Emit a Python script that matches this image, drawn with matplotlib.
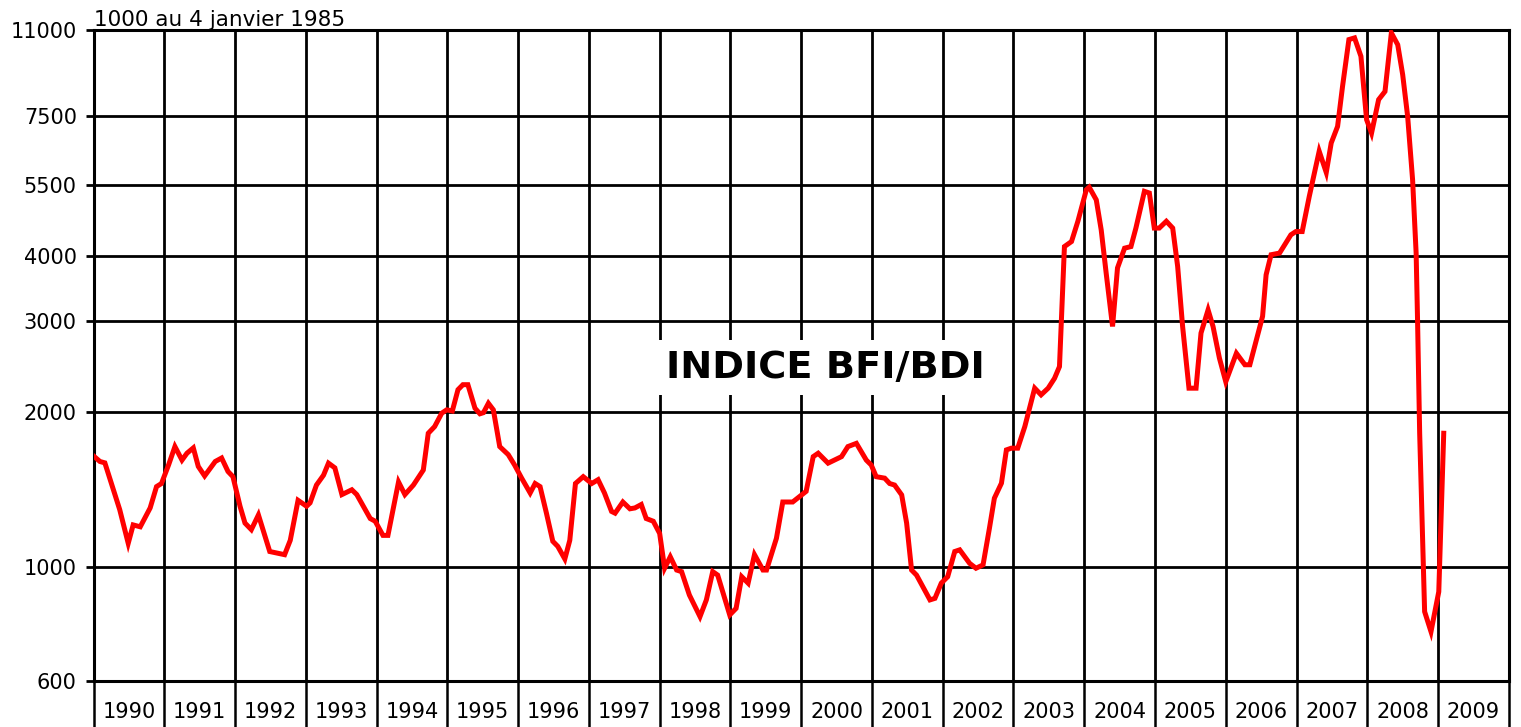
import matplotlib.pyplot as plt
import numpy as np

# Baltic Dry Index (fractional years, index values)
years = [1990.00, 1990.09, 1990.16, 1990.28, 1990.37, 1990.49, 1990.56, 1990.66, 1990.80, 1990.89,
         1990.96, 1991.06, 1991.15, 1991.25, 1991.32, 1991.41, 1991.48, 1991.57, 1991.72, 1991.81,
         1991.90, 1991.97, 1992.07, 1992.14, 1992.23, 1992.33, 1992.49, 1992.63, 1992.70, 1992.78,
         1992.89, 1993.01, 1993.06, 1993.15, 1993.25, 1993.32, 1993.41, 1993.51, 1993.65, 1993.72,
         1993.91, 1993.98, 1994.09, 1994.16, 1994.31, 1994.40, 1994.52, 1994.66, 1994.73, 1994.82,
         1994.92, 1994.99, 1995.07, 1995.15, 1995.22, 1995.29, 1995.39, 1995.46, 1995.51, 1995.58,
         1995.65, 1995.74, 1995.86, 1995.95, 1996.05, 1996.17, 1996.24, 1996.31, 1996.40, 1996.49,
         1996.56, 1996.66, 1996.73, 1996.81, 1996.92, 1997.04, 1997.13, 1997.22, 1997.32, 1997.37,
         1997.48, 1997.58, 1997.65, 1997.74, 1997.81, 1997.91, 1998.00, 1998.07, 1998.15, 1998.24,
         1998.31, 1998.42, 1998.57, 1998.66, 1998.75, 1998.82, 1998.92, 1998.99, 1999.08, 1999.16,
         1999.25, 1999.34, 1999.46, 1999.51, 1999.65, 1999.74, 1999.88, 2000.07, 2000.17, 2000.24,
         2000.38, 2000.57, 2000.66, 2000.78, 2000.92, 2000.99, 2001.06, 2001.18, 2001.25, 2001.32,
         2001.42, 2001.49, 2001.56, 2001.63, 2001.82, 2001.89, 2001.98, 2002.07, 2002.17, 2002.24,
         2002.38, 2002.47, 2002.57, 2002.66, 2002.73, 2002.83, 2002.90, 2002.97, 2003.06, 2003.16,
         2003.30, 2003.39, 2003.49, 2003.58, 2003.65, 2003.72, 2003.82, 2003.91, 2004.03, 2004.07,
         2004.17, 2004.24, 2004.31, 2004.40, 2004.47, 2004.57, 2004.66, 2004.73, 2004.85, 2004.92,
         2004.99, 2005.06, 2005.16, 2005.25, 2005.32, 2005.39, 2005.48, 2005.58, 2005.65, 2005.75,
         2005.82, 2005.91, 2006.00, 2006.08, 2006.15, 2006.27, 2006.34, 2006.45, 2006.52, 2006.57,
         2006.64, 2006.76, 2006.92, 2006.99, 2007.08, 2007.18, 2007.32, 2007.42, 2007.49, 2007.58,
         2007.65, 2007.74, 2007.82, 2007.91, 2007.99, 2008.06, 2008.16, 2008.25, 2008.34, 2008.43,
         2008.50, 2008.57, 2008.64, 2008.69, 2008.71, 2008.74, 2008.81, 2008.90, 2009.01, 2009.08]
bdi = [1640, 1600, 1590, 1410, 1290, 1110, 1205, 1195, 1300, 1430,
       1450, 1575, 1710, 1610, 1660, 1700, 1565, 1500, 1600, 1625,
       1530, 1495, 1310, 1215, 1180, 1260, 1070, 1060, 1055, 1125,
       1345, 1310, 1330, 1440, 1505, 1588, 1555, 1380, 1410, 1380,
       1240, 1225, 1150, 1150, 1460, 1380, 1440, 1540, 1815, 1870,
       1985, 2015, 2005, 2205, 2255, 2255, 2030, 1980, 1990, 2075,
       2015, 1710, 1650, 1575, 1485, 1390, 1450, 1430, 1270, 1120,
       1095, 1035, 1125, 1450, 1495, 1450, 1475, 1390, 1280, 1270,
       1335, 1295, 1300, 1320, 1240, 1225, 1160, 993, 1045, 985,
       978, 881, 800, 862, 978, 963, 868, 806, 830, 956,
       929, 1055, 985, 985, 1135, 1335, 1335, 1400, 1635, 1660,
       1588, 1635, 1710, 1735, 1610, 1575, 1495, 1485, 1450, 1440,
       1378, 1215, 985, 963, 862, 868, 929, 956, 1070, 1078,
       1015, 993, 1008, 1187, 1358, 1452, 1685, 1698, 1698, 1870,
       2220, 2155, 2220, 2320, 2445, 4180, 4275, 4680, 5390, 5450,
       5150, 4500, 3710, 2925, 3800, 4150, 4180, 4540, 5350, 5310,
       4540, 4540, 4680, 4540, 3825, 2925, 2220, 2220, 2840, 3150,
       2925, 2540, 2285, 2445, 2595, 2465, 2465, 2815, 3060, 3685,
       4030, 4060, 4405, 4470, 4470, 5230, 6400, 5820, 6640, 7150,
       8550, 10540, 10620, 9780, 7370, 6940, 8060, 8360, 10860, 10300,
       9010, 7480, 5635, 4060, 3010, 1815, 818, 748, 894, 1815]

y_ticks = [600, 1000, 2000, 3000, 4000, 5500, 7500, 11000]
year_labels = [str(y) for y in range(1990, 2010)]

fig = plt.figure(figsize=(15.21, 7.27), dpi=100)
ax = fig.add_axes([0.0615, 0.0633, 0.9305, 0.8954])

ax.plot(years, bdi, color='red', lw=3.6, solid_joinstyle='miter', zorder=3)

ax.set_yscale('log')
ax.set_ylim(600, 11000)
ax.set_xlim(1990, 2010)
ax.set_yticks(y_ticks)
ax.set_yticklabels([str(v) for v in y_ticks], fontsize=15)
ax.yaxis.set_minor_locator(plt.NullLocator())
ax.tick_params(axis='y', which='major', length=6, width=2, direction='out', pad=6)

# year boundaries as grid / separators, labels centred in each cell
ax.set_xticks(np.arange(1990, 2011))
ax.set_xticklabels([])
ax.set_xticks(np.arange(1990.5, 2010), minor=True)
ax.set_xticklabels(year_labels, minor=True, fontsize=15)
ax.tick_params(axis='x', which='major', length=33, width=1.8, direction='out')
ax.tick_params(axis='x', which='minor', length=0, pad=15)

ax.grid(True, which='major', color='black', lw=2, zorder=1)
for s in ax.spines.values():
    s.set_linewidth(2.2)

ax.text(0.0, 1.0, '1000 au 4 janvier 1985', transform=ax.transAxes,
        fontsize=15.5, ha='left', va='bottom')
ax.text(0.5168, 0.481, 'INDICE BFI/BDI', transform=ax.transAxes, fontsize=27.5,
        fontweight='bold', ha='center', va='center', zorder=2,
        bbox=dict(facecolor='white', edgecolor='none', pad=7))

fig.savefig('out.png', dpi=100)
